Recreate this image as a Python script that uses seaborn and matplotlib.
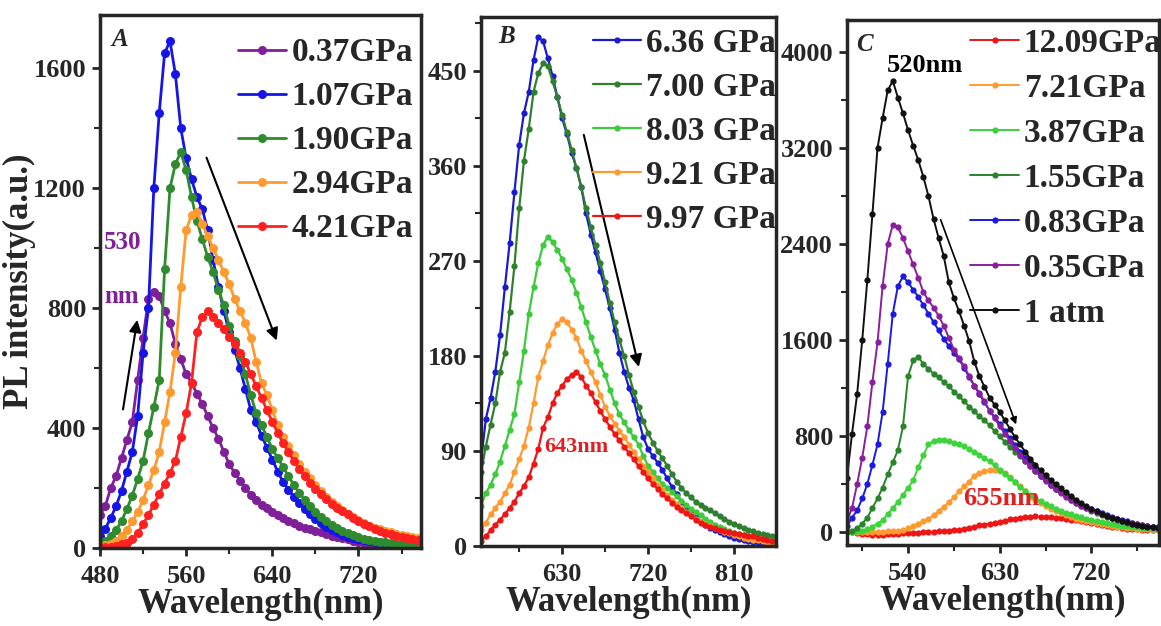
import numpy as np
import matplotlib
matplotlib.use("Agg")
import matplotlib.pyplot as plt
import seaborn as sns

# ---- panel A (low pressure) ----
wl_a = list(range(480, 781, 5))
labels_a = ["0.37GPa", "1.07GPa", "1.90GPa", "2.94GPa", "4.21GPa"]
colors_a = ["#7F1F99", "#1515E8", "#2E8B2E", "#FF9A30", "#FF2020"]
a_037 = [110, 140, 200, 240, 300, 360, 420, 560, 700, 830,
         855, 840, 790, 750, 680, 630, 580, 550, 515, 480,
         440, 400, 365, 320, 280, 250, 225, 200, 178, 160,
         145, 132, 120, 110, 100, 90, 82, 75, 68, 62,
         57, 52, 46, 41, 37, 33, 29, 25, 21, 18,
         15, 13, 11, 9, 7, 6, 5, 4, 3, 3,
         2]
a_107 = [40, 65, 100, 140, 190, 255, 320, 440, 650, 800,
         1200, 1450, 1650, 1690, 1580, 1400, 1300, 1230, 1170, 1130,
         1060, 960, 870, 790, 720, 660, 600, 530, 460, 420,
         375, 335, 295, 255, 220, 195, 170, 150, 130, 112,
         96, 83, 71, 61, 52, 45, 38, 33, 29, 26,
         23, 21, 19, 17, 15, 13, 12, 10, 9, 8,
         7]
a_190 = [15, 25, 40, 60, 90, 130, 175, 230, 290, 383,
         470, 560, 930, 1200, 1280, 1320, 1260, 1170, 1090, 1030,
         970, 920, 860, 810, 740, 690, 640, 580, 510, 450,
         410, 370, 330, 300, 270, 240, 210, 185, 160, 140,
         120, 105, 90, 78, 67, 57, 49, 42, 36, 31,
         27, 24, 21, 19, 17, 15, 13, 11, 10, 9,
         8]
a_294 = [5, 10, 15, 25, 40, 60, 90, 120, 160, 210,
         260, 320, 420, 520, 650, 870, 1060, 1110, 1120, 1080,
         1040, 1000, 960, 920, 880, 830, 790, 750, 700, 620,
         550, 510, 460, 410, 370, 340, 310, 280, 255, 235,
         210, 190, 170, 155, 140, 127, 115, 103, 93, 83,
         75, 68, 62, 57, 52, 48, 44, 40, 37, 34,
         30]
a_421 = [3, 4, 5, 8, 12, 18, 30, 50, 80, 110,
         145, 180, 215, 250, 290, 370, 450, 550, 720, 770,
         790, 770, 750, 730, 705, 680, 650, 620, 580, 540,
         500, 460, 420, 385, 350, 320, 290, 265, 240, 218,
         198, 180, 163, 148, 135, 123, 112, 100, 90, 80,
         72, 64, 57, 51, 46, 41, 37, 34, 31, 28,
         26]

# ---- panel B (high pressure, decreasing) ----
wl_b = list(range(545, 856, 5))
labels_b = ["6.36 GPa", "7.00 GPa", "8.03 GPa", "9.21 GPa", "9.97 GPa"]
colors_b = ["#1A1AD0", "#2F7F2F", "#3BCB3B", "#FF9A30", "#EE1515"]
b_636 = [80, 120, 140, 165, 200, 245, 287, 335, 380, 410,
         430, 460, 482, 478, 462, 445, 425, 405, 390, 372,
         358, 340, 315, 295, 278, 260, 243, 225, 205, 183,
         165, 150, 138, 120, 103, 92, 85, 79, 72, 64,
         56, 49, 42, 36, 31, 27, 23, 20, 17, 15,
         13, 11, 9, 8, 7, 6, 5, 4, 4, 3,
         3, 2, 2]
b_700 = [70, 94, 115, 135, 165, 183, 222, 265, 320, 365,
         395, 430, 448, 457, 455, 440, 425, 408, 392, 375,
         358, 340, 320, 302, 285, 268, 250, 230, 212, 195,
         180, 162, 146, 132, 118, 107, 98, 90, 83, 76,
         68, 61, 55, 50, 46, 42, 39, 36, 34, 31,
         28, 26, 23, 21, 19, 17, 15, 14, 12, 11,
         10, 9, 8]
b_803 = [38, 50, 58, 68, 80, 95, 110, 125, 155, 185,
         220, 245, 268, 285, 293, 288, 280, 272, 262, 252,
         240, 226, 212, 198, 185, 172, 162, 148, 135, 125,
         117, 110, 103, 96, 85, 76, 70, 64, 59, 55,
         51, 47, 43, 39, 35, 32, 29, 26, 23, 20,
         18, 16, 14, 12, 11, 10, 9, 8, 7, 6,
         5, 5, 4]
b_921 = [15, 22, 30, 36, 42, 50, 58, 70, 82, 95,
         112, 135, 160, 175, 190, 202, 210, 215, 212, 205,
         197, 185, 175, 165, 155, 143, 132, 123, 116, 109,
         103, 96, 89, 82, 76, 70, 64, 58, 53, 48,
         44, 40, 36, 32, 29, 26, 23, 21, 19, 17,
         15, 13, 12, 10, 9, 8, 7, 6, 6, 5,
         4, 4, 3]
b_997 = [5, 9, 15, 20, 25, 30, 36, 42, 50, 57,
         65, 78, 92, 112, 122, 135, 145, 152, 158, 162,
         165, 160, 152, 145, 136, 128, 120, 113, 106, 100,
         94, 88, 82, 76, 70, 64, 59, 54, 49, 45,
         41, 37, 34, 31, 28, 25, 22, 20, 18, 17,
         15, 14, 13, 12, 11, 10, 9, 9, 8, 7,
         6, 5, 5]

# ---- panel C (decompression) ----
wl_c = list(range(480, 786, 5))
labels_c = ["12.09GPa", "7.21GPa", "3.87GPa", "1.55GPa", "0.83GPa", "0.35GPa", "1 atm"]
colors_c = ["#EE1515", "#FF9A30", "#3BD43B", "#2A842A", "#1A1AE0", "#8A1E9E", "#111111"]
c_1209 = [10, 0, -10, -15, -20, -25, -25, -25, -20, -20,
          -15, -12, -10, -8, -5, -3, 0, 3, 6, 10,
          12, 15, 18, 25, 35, 45, 55, 62, 70, 75,
          85, 95, 105, 112, 120, 125, 128, 130, 128, 125,
          122, 118, 114, 110, 104, 100, 92, 84, 76, 68,
          60, 52, 44, 38, 33, 29, 25, 22, 19, 17,
          15, 13]
c_721 = [0, 0, 0, 0, 0, 0, 0, 0, 5, 8,
         10, 15, 30, 50, 70, 90, 110, 140, 175, 210,
         250, 290, 340, 380, 420, 470, 495, 505, 515, 520,
         505, 490, 460, 420, 380, 340, 295, 265, 240, 215,
         195, 175, 155, 140, 125, 112, 100, 90, 80, 72,
         64, 57, 51, 45, 40, 36, 32, 28, 25, 22,
         20, 18]
c_387 = [0, 0, 5, 10, 25, 45, 70, 100, 150, 200,
         250, 310, 370, 430, 540, 640, 730, 760, 770, 765,
         755, 745, 730, 715, 690, 670, 645, 615, 590, 555,
         520, 485, 450, 415, 375, 340, 310, 280, 255, 235,
         215, 195, 178, 162, 148, 135, 122, 110, 100, 90,
         81, 73, 66, 59, 53, 48, 43, 38, 34, 30,
         27, 24]
c_155 = [0, 10, 30, 70, 120, 200, 280, 370, 480, 580,
         683, 880, 1300, 1430, 1460, 1400, 1360, 1320, 1290, 1250,
         1215, 1170, 1130, 1090, 1045, 1005, 965, 930, 890, 840,
         800, 750, 710, 670, 630, 590, 550, 510, 470, 430,
         395, 360, 330, 300, 270, 245, 220, 198, 178, 160,
         143, 128, 114, 101, 90, 79, 70, 61, 54, 47,
         42, 37]
c_083 = [50, 120, 180, 280, 400, 560, 730, 1000, 1400, 1820,
         2050, 2130, 2080, 2020, 1960, 1890, 1820, 1750, 1680, 1610,
         1550, 1490, 1440, 1370, 1290, 1220, 1150, 1080, 1010, 960,
         900, 840, 780, 725, 670, 615, 565, 515, 470, 430,
         395, 360, 330, 300, 275, 250, 228, 208, 190, 172,
         155, 140, 126, 112, 100, 88, 78, 68, 60, 52,
         46, 40]
c_035 = [90, 200, 400, 620, 880, 1250, 1580, 2050, 2400, 2560,
         2540, 2450, 2340, 2230, 2120, 2000, 1930, 1870, 1800, 1720,
         1620, 1520, 1450, 1380, 1300, 1220, 1160, 1090, 1010, 950,
         880, 820, 760, 700, 645, 595, 550, 505, 465, 425,
         390, 355, 325, 295, 268, 243, 220, 200, 182, 165,
         148, 133, 119, 106, 94, 83, 73, 64, 56, 49,
         43, 38]
c_1atm = [450, 820, 1150, 1600, 2100, 2650, 3200, 3450, 3680, 3760,
          3620, 3490, 3350, 3220, 3100, 2960, 2800, 2610, 2450, 2300,
          2080, 1950, 1840, 1720, 1590, 1420, 1300, 1210, 1120, 1060,
          1000, 930, 860, 790, 730, 670, 610, 560, 515, 475,
          435, 400, 365, 330, 300, 270, 242, 215, 192, 172,
          152, 135, 120, 106, 93, 80, 70, 60, 52, 45,
          40, 35]

sns.set_style("ticks")
plt.rcParams["font.family"] = ["Liberation Serif", "DejaVu Serif"]
plt.rcParams["font.weight"] = "bold"
plt.rcParams["axes.labelweight"] = "bold"

LEG_KW = dict(frameon=False, fontsize=24, handlelength=1.45, handletextpad=0.15,
              borderpad=0.0, borderaxespad=0.0)


def draw_panel(ax, wl, series, labels, colors, ms, lw):
    for vals, lab, col in zip(series, labels, colors):
        sns.lineplot(x=wl, y=vals, ax=ax, color=col, label=lab, marker="o",
                     markersize=ms, markeredgewidth=0, linewidth=lw)


def style_axes(ax, xlim, ylim, xmaj, xmin, ymaj, ymin):
    ax.set_xlim(*xlim)
    ax.set_ylim(*ylim)
    ax.set_xticks(xmaj)
    ax.set_xticks(xmin, minor=True)
    ax.set_yticks(ymaj)
    ax.set_yticks(ymin, minor=True)
    for s in ax.spines.values():
        s.set_linewidth(2.5)
        s.set_visible(True)
    ax.tick_params(axis="both", which="major", direction="out", length=6,
                   width=2, labelsize=19, pad=4)
    ax.tick_params(axis="x", which="major", pad=6)
    ax.tick_params(axis="both", which="minor", direction="out", length=4, width=1.5)
    ax.set_xlabel("Wavelength(nm)", fontsize=25, labelpad=0)
    ax.set_ylabel("")


fig = plt.figure(figsize=(11.61, 6.26), dpi=100)
ax_a = fig.add_axes([0.0861, 0.1246, 0.2765, 0.8514])
ax_b = fig.add_axes([0.4143, 0.1278, 0.2541, 0.8450])
ax_c = fig.add_axes([0.7295, 0.1294, 0.2685, 0.8386])

# panel A
draw_panel(ax_a, wl_a, [a_037, a_107, a_190, a_294, a_421], labels_a, colors_a, 6.5, 2.0)
style_axes(ax_a, (480, 778), (0, 1777), [480, 560, 640, 720], [520, 600, 680, 760],
           [0, 400, 800, 1200, 1600], [200, 600, 1000, 1400])
ax_a.set_ylabel("PL intensity(a.u.)", fontsize=25)
ax_a.yaxis.set_label_coords(-0.2, 0.5)
ax_a.legend(loc="upper right", bbox_to_anchor=(0.975, 0.958), labelspacing=0.39, **LEG_KW)
ax_a.text(0.035, 0.975, "A", transform=ax_a.transAxes, fontsize=18, style="italic",
          ha="left", va="top")
ax_a.text(484, 1017, "530", color="#7F1F99", fontsize=18, ha="left", va="center")
ax_a.text(484, 840, "nm", color="#7F1F99", fontsize=18, ha="left", va="center")
ax_a.annotate("", xy=(515, 770), xytext=(501, 453),
              arrowprops=dict(arrowstyle="-|>", color="black", lw=1.5, mutation_scale=18))
ax_a.annotate("", xy=(645, 683), xytext=(578, 1310),
              arrowprops=dict(arrowstyle="-|>", color="black", lw=1.5, mutation_scale=18))

# panel B
draw_panel(ax_b, wl_b, [b_636, b_700, b_803, b_921, b_997], labels_b, colors_b, 4.5, 1.6)
style_axes(ax_b, (545, 854), (0, 501), [630, 720, 810], [585, 675, 765],
           [0, 90, 180, 270, 360, 450], [45, 135, 225, 315, 405, 495])
ax_b.legend(loc="upper right", bbox_to_anchor=(1.0, 0.98), labelspacing=0.39, **LEG_KW)
ax_b.text(0.06, 0.985, "B", transform=ax_b.transAxes, fontsize=18, style="italic",
          ha="left", va="top")
ax_b.text(645, 94, "643nm", color="#E02020", fontsize=16, ha="center", va="center")
ax_b.annotate("", xy=(711, 167), xytext=(652, 392),
              arrowprops=dict(arrowstyle="-|>", color="black", lw=1.5, mutation_scale=18))

# panel C
draw_panel(ax_c, wl_c, [c_1209, c_721, c_387, c_155, c_083, c_035, c_1atm],
           labels_c, colors_c, 4.5, 1.4)
style_axes(ax_c, (480, 786), (-108, 4267), [540, 630, 720], [495, 585, 675, 765],
           [0, 800, 1600, 2400, 3200, 4000], [400, 1200, 2000, 2800, 3600])
ax_c.legend(loc="upper right", bbox_to_anchor=(1.01, 0.985), labelspacing=0.42, **LEG_KW)
ax_c.text(0.03, 0.975, "C", transform=ax_c.transAxes, fontsize=18, style="italic",
          ha="left", va="top")
ax_c.text(557, 3890, "520nm", color="black", fontsize=19, ha="center", va="center")
ax_c.text(631, 283, "655nm", color="#E02020", fontsize=19, ha="center", va="center")
ax_c.annotate("", xy=(647, 875), xytext=(571, 2625),
              arrowprops=dict(arrowstyle="-|>", color="black", lw=1.2, mutation_scale=10))

fig.savefig("out.png", dpi=100)
